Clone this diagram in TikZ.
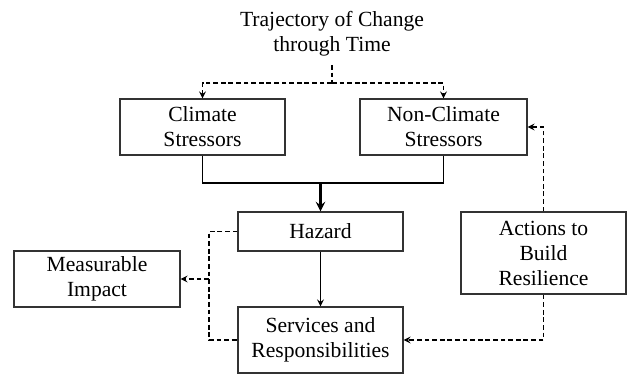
\documentclass[tikz,border=0pt]{standalone}
\usepackage{fontspec}
\setmainfont{Liberation Serif}
\usetikzlibrary{arrows}

\tikzset{
  stagebox/.style={draw=black!80, line width=0.6pt, align=center, inner sep=0pt,
    font=\fontsize{10.8}{12.5}\selectfont},
  dashlink/.style={dash pattern=on 2.4pt off 1.4pt},
}

\begin{document}
\begin{tikzpicture}[>=stealth, x=0.5pt, y=-0.5pt, line width=0.55pt]
  \useasboundingbox (0,0) rectangle (627,375);

  % Title
  \node[align=center, inner sep=4pt, font=\fontsize{10.8}{12.5}\selectfont] (title) at (332,34)
    {Trajectory of Change\\through Time};
  \coordinate (split) at (332,83);

  % Stressors
  \node[stagebox, minimum width=82.5pt, minimum height=28pt] (clim) at (202.5,127) {Climate\\Stressors};
  \node[stagebox, minimum width=83.5pt, minimum height=28pt] (nonclim) at (443.5,127) {Non-Climate\\Stressors};
  \coordinate (join) at (320.5,183);

  % Middle row
  \node[stagebox, minimum width=82.5pt, minimum height=19.5pt] (hazard) at (320.5,231.5) {Hazard};
  \node[stagebox, minimum width=83pt, minimum height=28pt] (impact) at (97,279) {Measurable\\Impact};
  \node[stagebox, minimum width=82.5pt, minimum height=41pt] (act) at (543.5,253) {Actions to\\Build\\Resilience};
  \coordinate (loop) at (209,279);

  % Bottom
  \node[stagebox, minimum width=82.5pt, minimum height=33pt] (serv) at (320.5,340) {Services and\\Responsibilities};

  % Connectors
  \draw[dashlink] (title.south) -- (split);
  \draw[->, dashlink] (split) -| (clim.north);
  \draw[->, dashlink] (split) -| (nonclim.north);

  \draw (clim.south) |- (join) -| (nonclim.south);
  \draw[->, line width=1.1pt] (join) -- (hazard.north);
  \draw[->] (hazard) -- (serv);

  \draw[dashlink] (hazard.west) -| (loop) |- (serv.west);
  \draw[->, dashlink] (loop) -- (impact.east);

  \draw[->, dashlink] (act.south) |- (serv.east);
  \draw[->, dashlink] (act.north) |- (nonclim.east);
\end{tikzpicture}
\end{document}
